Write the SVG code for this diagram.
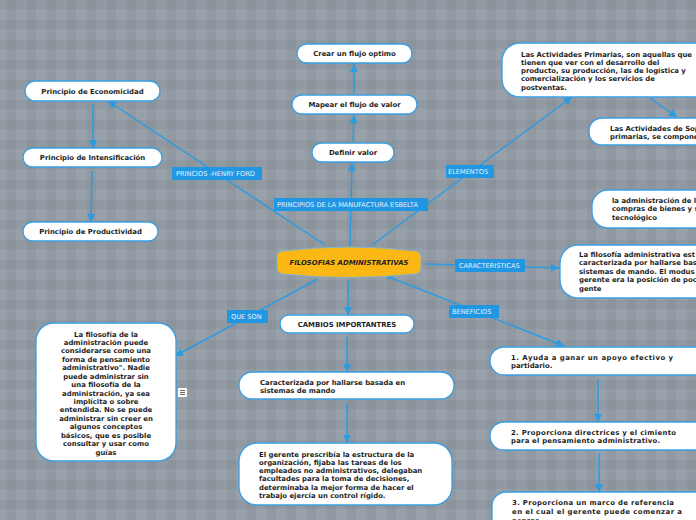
<svg xmlns="http://www.w3.org/2000/svg" width="696" height="520" viewBox="0 0 696 520">
<defs>
<pattern id="bg" width="20" height="20" patternUnits="userSpaceOnUse">
<rect width="20" height="20" fill="#98a1a9"/>
<rect x="7" y="0" width="9" height="20" fill="#000" fill-opacity="0.045"/>
<rect x="0" y="0" width="20" height="9" fill="#000" fill-opacity="0.045"/>
</pattern>
<marker id="ah" markerUnits="userSpaceOnUse" markerWidth="10" markerHeight="10" viewBox="0 0 10 10" refX="9" refY="5" orient="auto">
<path d="M1,1 L9,5 L1,9 Z" fill="#2b9be3"/>
</marker>
<style>
.n{fill:#fff;stroke:#3a9ee2;stroke-width:1.3}
.t{font-family:"DejaVu Sans",Verdana,sans-serif;font-weight:bold;font-size:6.9px;fill:#1e1e1e}
.c{text-anchor:middle}
.e{stroke:#2b9be3;stroke-width:1.5;fill:none}
.lb{fill:#2196e3}
.lt{font-family:"DejaVu Sans",Verdana,sans-serif;font-size:6.6px;fill:#e4f2ff}
</style>
</defs>
<rect width="696" height="520" fill="url(#bg)"/>

<g id="connectors">
<line class="e" x1="350" y1="246" x2="352" y2="163" marker-end="url(#ah)"/>
<line class="e" x1="353" y1="141" x2="354" y2="115" marker-end="url(#ah)"/>
<line class="e" x1="354" y1="93" x2="354" y2="64" marker-end="url(#ah)"/>
<line class="e" x1="325" y1="245" x2="108" y2="101" marker-end="url(#ah)"/>
<line class="e" x1="93" y1="104" x2="93" y2="148" marker-end="url(#ah)"/>
<line class="e" x1="92" y1="171" x2="91" y2="222" marker-end="url(#ah)"/>
<line class="e" x1="372" y1="245" x2="572" y2="97" marker-end="url(#ah)"/>
<line class="e" x1="650" y1="98" x2="677" y2="117" marker-end="url(#ah)"/>
<line class="e" x1="426" y1="264" x2="559" y2="268" marker-end="url(#ah)"/>
<line class="e" x1="389" y1="277" x2="564" y2="346" marker-end="url(#ah)"/>
<circle cx="389" cy="277" r="2.5" fill="#2b9be3"/>
<line class="e" x1="598" y1="379" x2="598" y2="422" marker-end="url(#ah)"/>
<line class="e" x1="599" y1="453" x2="599" y2="492" marker-end="url(#ah)"/>
<line class="e" x1="318" y1="279" x2="175" y2="356" marker-end="url(#ah)"/>
<line class="e" x1="348" y1="280" x2="348" y2="315" marker-end="url(#ah)"/>
<line class="e" x1="347" y1="337" x2="347" y2="372" marker-end="url(#ah)"/>
<line class="e" x1="347" y1="403" x2="347" y2="443" marker-end="url(#ah)"/>

<g id="lbl-ford"><rect class="lb" x="172" y="167" width="90" height="13"/><text class="lt" x="176" y="176">PRINCIOS -HENRY FORD</text></g>
<g id="lbl-esbelta"><rect class="lb" x="274" y="198" width="154" height="13"/><text class="lt" x="277" y="207">PRINCIPIOS DE LA MANUFACTURA ESBELTA</text></g>
<g id="lbl-elementos"><rect class="lb" x="446" y="165" width="48" height="13"/><text class="lt" x="448" y="174">ELEMENTOS</text></g>
<g id="lbl-caract"><rect class="lb" x="455" y="259" width="70" height="13"/><text class="lt" x="459" y="268">CARACTERISTICAS</text></g>
<g id="lbl-benef"><rect class="lb" x="449" y="305" width="50" height="13"/><text class="lt" x="452" y="314">BENEFICIOS</text></g>
<g id="lbl-queson"><rect class="lb" x="227" y="310" width="41" height="13"/><text class="lt" x="231" y="319">QUE SON</text></g>
</g>

<g id="center">
<path d="M282,251 Q349,243 416,251 Q421,252 421,257 L421,268 Q421,273 416,274 Q349,281 282,274 Q277,273 277,268 L277,257 Q277,252 282,251 Z" fill="#fbb714" stroke="#7fb2cf" stroke-width="1"/>
<text class="t c" x="349" y="264.5" font-style="italic">FILOSOFIAS ADMINISTRATIVAS</text>
</g>

<g id="n-crear"><rect class="n" x="297" y="44" width="115" height="19" rx="9.5"/><text class="t c" x="354.5" y="56">Crear un flujo optimo</text></g>
<g id="n-mapear"><rect class="n" x="292" y="95" width="125" height="19" rx="9.5"/><text class="t c" x="354.5" y="107">Mapear el flujo de valor</text></g>
<g id="n-definir"><rect class="n" x="312" y="143" width="82" height="19" rx="9.5"/><text class="t c" x="353" y="155">Definir valor</text></g>

<g id="n-econ"><rect class="n" x="25" y="81" width="135" height="20" rx="10"/><text class="t c" x="92.5" y="93.5">Principio de Economicidad</text></g>
<g id="n-intens"><rect class="n" x="23" y="148" width="139" height="19" rx="9.5"/><text class="t c" x="92.5" y="160">Principio de Intensificación</text></g>
<g id="n-prod"><rect class="n" x="23" y="222" width="135" height="19" rx="9.5"/><text class="t c" x="90.5" y="234">Principio de Productividad</text></g>

<g id="n-primarias"><rect class="n" x="502" y="43" width="230" height="54" rx="18"/>
<text class="t" x="521" y="56.5">Las Actividades Primarias, son aquellas que</text>
<text class="t" x="521" y="64.8">tienen que ver con el desarrollo del</text>
<text class="t" x="521" y="73.1">producto, su producción, las de logística y</text>
<text class="t" x="521" y="81.4">comercialización y los servicios de</text>
<text class="t" x="521" y="89.7">postventas.</text>
</g>
<g id="n-soporte"><rect class="n" x="589" y="118" width="140" height="27" rx="13"/>
<text class="t" x="610" y="131">Las Actividades de Sop</text>
<text class="t" x="610" y="139.3">primarias, se compone</text>
</g>
<g id="n-admin"><rect class="n" x="592" y="190" width="140" height="38" rx="16"/>
<text class="t" x="612" y="202.5">la administración de l</text>
<text class="t" x="612" y="211.2">compras de bienes y s</text>
<text class="t" x="612" y="219.9">tecnológico</text>
</g>
<g id="n-caract"><rect class="n" x="560" y="245" width="170" height="53" rx="18"/>
<text class="t" x="579" y="256.5">La filosofía administrativa est</text>
<text class="t" x="579" y="265">caracterizada por hallarse bas</text>
<text class="t" x="579" y="273.5">sistemas de mando. El modus</text>
<text class="t" x="579" y="282">gerente era la posición de poc</text>
<text class="t" x="579" y="290.5">gente</text>
</g>

<g id="n-b1"><rect class="n" x="490" y="347" width="240" height="28" rx="14"/>
<text class="t" x="511" y="359.8" textLength="162" lengthAdjust="spacing">1. Ayuda a ganar un apoyo efectivo y</text>
<text class="t" x="511" y="368">partidario.</text>
</g>
<g id="n-b2"><rect class="n" x="490" y="422" width="240" height="28" rx="14"/>
<text class="t" x="511" y="434.8" textLength="165" lengthAdjust="spacing">2. Proporciona directrices y el cimiento</text>
<text class="t" x="511" y="442.8" textLength="149" lengthAdjust="spacing">para el pensamiento administrativo.</text>
</g>
<g id="n-b3"><rect class="n" x="492" y="492" width="240" height="44" rx="14"/>
<text class="t" x="512" y="505" textLength="162" lengthAdjust="spacing">3. Proporciona un marco de referencia</text>
<text class="t" x="512" y="514" textLength="170" lengthAdjust="spacing">en el cual el gerente puede comenzar a</text>
<text class="t" x="512" y="522.5">pensar.</text>
</g>

<g id="n-queson"><rect class="n" x="36" y="323" width="140" height="138" rx="18"/>
<text class="t c" x="106" y="336.5">La filosofía de la</text>
<text class="t c" x="106" y="344.9">administración puede</text>
<text class="t c" x="106" y="353.4">considerarse como una</text>
<text class="t c" x="106" y="361.8">forma de pensamiento</text>
<text class="t c" x="106" y="370.2">administrativo". Nadie</text>
<text class="t c" x="106" y="378.7">puede administrar sin</text>
<text class="t c" x="106" y="387.1">una filosofía de la</text>
<text class="t c" x="106" y="395.5">administración, ya sea</text>
<text class="t c" x="106" y="403.9">implícita o sobre</text>
<text class="t c" x="106" y="412.4">entendida. No se puede</text>
<text class="t c" x="106" y="420.8">administrar sin creer en</text>
<text class="t c" x="106" y="429.2">algunos conceptos</text>
<text class="t c" x="106" y="437.7">básicos, que es posible</text>
<text class="t c" x="106" y="446.1">consultar y usar como</text>
<text class="t c" x="106" y="454.5">guías</text>
</g>
<g id="note-icon"><rect x="178" y="388" width="9" height="9" rx="1" fill="#fff"/><path d="M180,390.5 H185 M180,392.5 H185 M180,394.5 H185" stroke="#555" stroke-width="0.9"/></g>

<g id="n-cambios"><rect class="n" x="280" y="315" width="134" height="18" rx="9"/><text class="t c" x="347" y="326.5">CAMBIOS IMPORTANTRES</text></g>
<g id="n-caracterizada"><rect class="n" x="239" y="372" width="215" height="27" rx="13"/>
<text class="t" x="260" y="384.5">Caracterizada por hallarse basada en</text>
<text class="t" x="260" y="393">sistemas de mando</text>
</g>
<g id="n-gerente"><rect class="n" x="239" y="443" width="213" height="62" rx="18"/>
<text class="t" x="259" y="456.5">El gerente prescribía la estructura de la</text>
<text class="t" x="259" y="464.8">organización, fijaba las tareas de los</text>
<text class="t" x="259" y="473.1">empleados no administrativos, delegaban</text>
<text class="t" x="259" y="481.4">facultades para la toma de decisiones,</text>
<text class="t" x="259" y="489.7">determinaba la mejor forma de hacer el</text>
<text class="t" x="259" y="498">trabajo ejercía un control rígido.</text>
</g>
</svg>
